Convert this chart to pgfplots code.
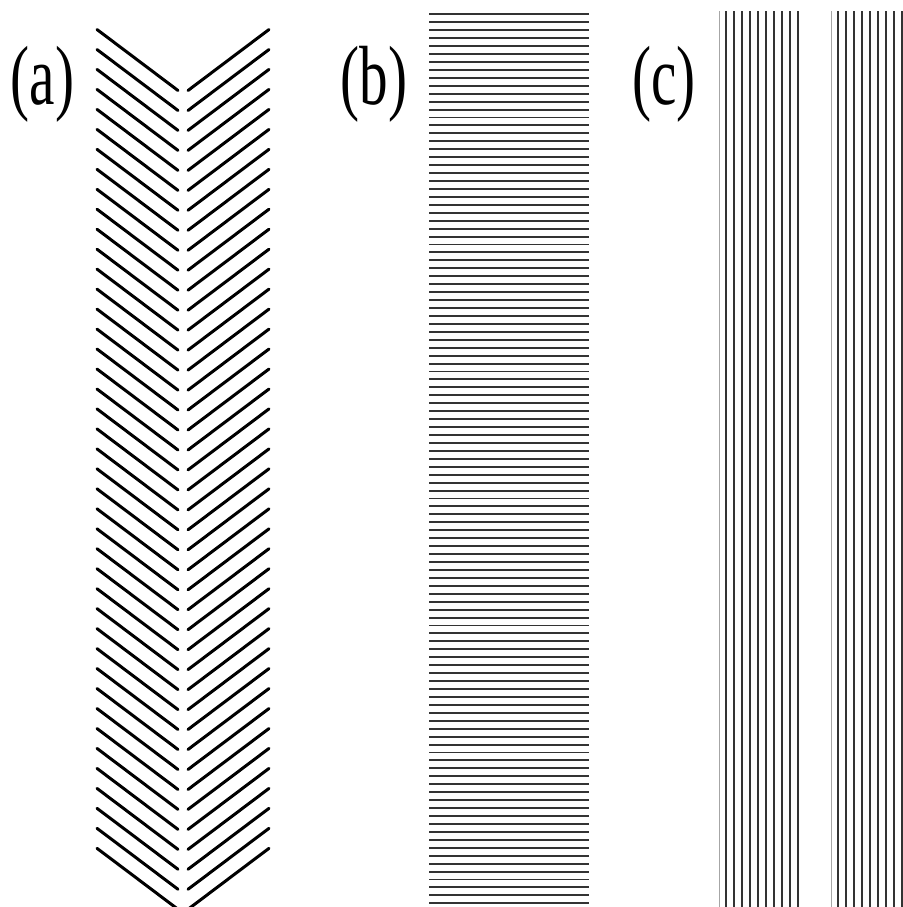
\documentclass[border=0pt]{standalone}
\usepackage{fontspec}
\setmainfont{Liberation Serif}
\usepackage{graphicx}
\usepackage{pgfplots}
\usepackage{pgfplotstable}
\pgfplotsset{compat=1.18}

% (a) chevron strokes: y of the upper end of each stroke (pixels from top)
\pgfplotstableread{
y
29.5
49.5
69.4
89.4
109.4
129.4
149.3
169.3
189.3
209.2
229.2
249.2
269.1
289.1
309.1
329.1
349.0
369.0
389.0
408.9
428.9
448.9
468.8
488.8
508.8
528.8
548.7
568.7
588.7
608.6
628.6
648.6
668.5
688.5
708.5
728.5
748.4
768.4
788.4
808.3
828.3
848.3
}\chevrons

% (b) horizontal lines: y positions
\pgfplotstableread{
y
14.3
22.2
30.2
38.1
46.1
54.0
61.9
69.9
77.8
85.7
93.7
101.6
109.6
117.5
125.4
133.4
141.3
149.2
157.2
165.1
173.1
181.0
188.9
196.9
204.8
212.7
220.7
228.6
236.6
244.5
252.4
260.4
268.3
276.2
284.2
292.1
300.1
308.0
315.9
323.9
331.8
339.7
347.7
355.6
363.6
371.5
379.4
387.4
395.3
403.2
411.2
419.1
427.1
435.0
442.9
450.9
458.8
466.7
474.7
482.6
490.6
498.5
506.4
514.4
522.3
530.2
538.2
546.1
554.1
562.0
569.9
577.9
585.8
593.7
601.7
609.6
617.6
625.5
633.4
641.4
649.3
657.2
665.2
673.1
681.1
689.0
696.9
704.9
712.8
720.7
728.7
736.6
744.6
752.5
760.4
768.4
776.3
784.2
792.2
800.1
808.1
816.0
823.9
831.9
839.8
847.7
855.7
863.6
871.6
879.5
887.4
895.4
903.3
}\hlines

% (c) vertical lines: x positions, top y
\pgfplotstableread{
x y
726.2 11
734.2 11
742.2 11
750.2 11
758.2 11
766.2 11
774.2 11
782.2 11
790.2 11
798.2 11
838.2 11
846.2 11
854.2 11
862.2 11
870.2 11
878.2 11
886.2 11
894.2 11
902.2 11
}\vertlines

\pgfplotstableread{
x y
719.3 11
831.7 11
}\vertlight

\begin{document}
\begin{tikzpicture}
\begin{axis}[
  at={(0,0)}, anchor=south west,
  scale only axis,
  width=451.5pt, height=453.5pt,
  xmin=0, xmax=903, ymin=0, ymax=907,
  y dir=reverse,
  hide axis,
  clip=true,
]
% (a) left strokes
\addplot[black, line width=1.5pt, line cap=round, quiver={u=81, v=61}]
  table[x expr=97, y=y] {\chevrons};
% (a) right strokes
\addplot[black, line width=1.5pt, line cap=round, quiver={u=-81, v=61}]
  table[x expr=269, y=y] {\chevrons};
% (b)
\addplot[black!80, line width=0.95pt, quiver={u=160, v=0}]
  table[x expr=429, y=y] {\hlines};
% (c)
\addplot[black!80, line width=0.9pt, quiver={u=0, v=900}]
  table[x=x, y=y] {\vertlines};
\addplot[black!35, line width=0.5pt, quiver={u=0, v=900}]
  table[x=x, y=y] {\vertlight};

\node[inner sep=0pt] at (axis cs:42.5,84.5) {\scalebox{0.68}[1]{\fontsize{42}{50}\selectfont (a)}};
\node[inner sep=0pt] at (axis cs:374,84.5) {\scalebox{0.68}[1]{\fontsize{42}{50}\selectfont (b)}};
\node[inner sep=0pt] at (axis cs:664,84.5) {\scalebox{0.68}[1]{\fontsize{42}{50}\selectfont (c)}};
\end{axis}
\pgfresetboundingbox
\path (0,0) rectangle (451.5pt,453.5pt);
\end{tikzpicture}
\end{document}
